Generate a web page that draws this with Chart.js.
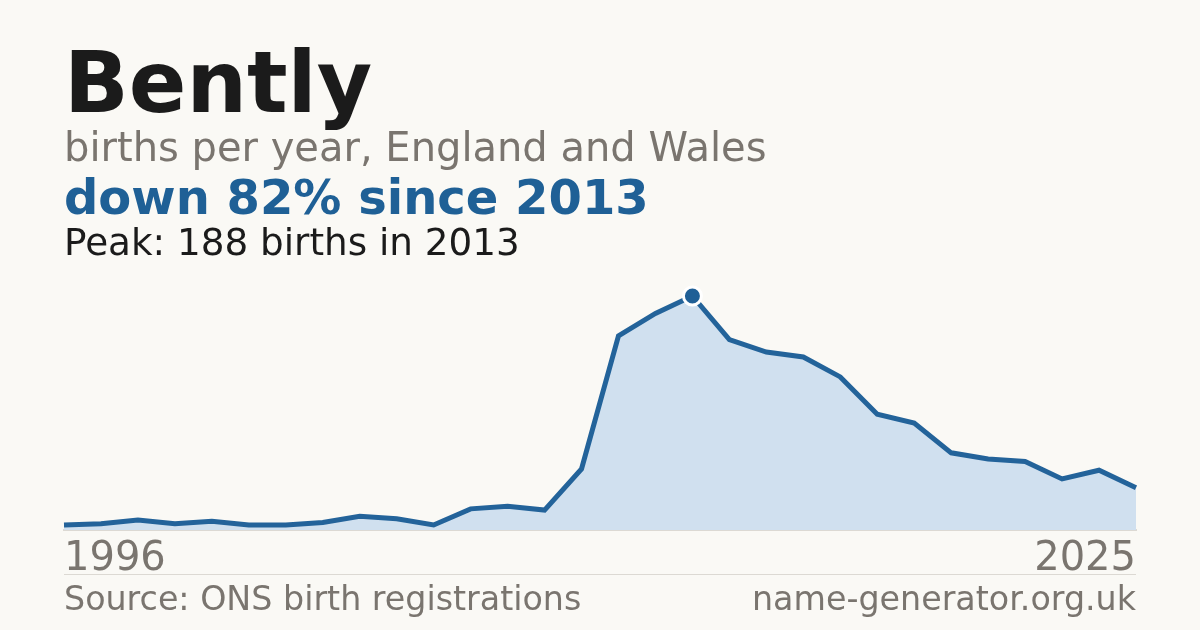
<!DOCTYPE html>
<html>
<head>
<meta charset="utf-8">
<script src="https://cdn.jsdelivr.net/npm/chart.js@4"></script>
<style>
  html, body { margin: 0; padding: 0; }
  body { width: 1200px; height: 630px; background: #faf9f5; position: relative; overflow: hidden;
         font-family: "DejaVu Sans", sans-serif; }
  .t { position: absolute; left: 64px; line-height: 1; white-space: nowrap; }
  #title { top: 40px; font-size: 85px; font-weight: bold; color: #1b1b1b; }
  #sub { top: 127px; font-size: 40px; color: #7a756f; }
  #change { top: 173px; font-size: 48px; font-weight: bold; color: #1f6096; }
  #peak { top: 224px; font-size: 37.3px; color: #1b1b1b; }
  #rule { position: absolute; left: 64px; width: 1072px; top: 574px; height: 1px; background: #dcd9d3; }
  #source { top: 582px; font-size: 33.3px; color: #7a756f; }
  #site { top: 582px; left: auto; right: 64px; font-size: 33.3px; color: #7a756f; }
  #wrap { position: absolute; left: 0; top: 0; width: 1200px; height: 630px; }
</style>
</head>
<body>
<div id="wrap"><canvas id="chart"></canvas></div>
<div class="t" id="title">Bently</div>
<div class="t" id="sub">births per year, England and Wales</div>
<div class="t" id="change">down 82% since 2013</div>
<div class="t" id="peak">Peak: 188 births in 2013</div>
<div id="rule"></div>
<div class="t" id="source">Source: ONS birth registrations</div>
<div class="t" id="site">name-generator.org.uk</div>
<script>
var years = ['1996','1997','1998','1999','2000','2001','2002','2003','2004','2005',
             '2006','2007','2008','2009','2010','2011','2012','2013','2014','2015',
             '2016','2017','2018','2019','2020','2021','2022','2023','2024','2025'];
var births = [4, 5, 8, 5, 7, 4, 4, 6, 11, 9,
              4, 17, 19, 16, 49, 156, 174, 188, 153, 143,
              139, 123, 93, 86, 62, 57, 55, 41, 48, 34];
var tickYears = ['1996', '2025'];

var peakIndex = births.indexOf(Math.max.apply(null, births));

var ctx = document.getElementById('chart');
var chart = new Chart(ctx, {
    type: 'line',
    data: {
        labels: years,
        datasets: [{
            data: births,
            borderColor: '#23639a',
            borderWidth: 5,
            backgroundColor: '#d0e0ef',
            fill: 'origin',
            tension: 0,
            clip: false,
            pointRadius: function (c) { return c.dataIndex === peakIndex ? 9 : 0; },
            pointHoverRadius: 0,
            pointBackgroundColor: '#1f5f96',
            pointBorderColor: '#ffffff',
            pointBorderWidth: 3
        }]
    },
    options: {
        responsive: true,
        maintainAspectRatio: false,
        animation: false,
        layout: { padding: { left: 64, right: 64, top: 296, bottom: 56 } },
        plugins: { legend: { display: false }, tooltip: { enabled: false } },
        scales: {
            x: {
                grid: { display: false, drawTicks: false },
                border: { display: true, color: '#dcd9d3', width: 2 },
                afterFit: function (s) { s.height = 44; },
                ticks: {
                    autoSkip: false,
                    maxRotation: 0,
                    align: 'inner',
                    padding: 6,
                    color: '#7a756f',
                    font: { family: 'DejaVu Sans', size: 40 },
                    callback: function (v, i) {
                        var y = this.getLabelForValue(v);
                        return tickYears.indexOf(y) >= 0 ? y : '';
                    }
                }
            },
            y: { display: false, min: 0, max: 188 }
        }
    }
});
</script>
</body>
</html>
